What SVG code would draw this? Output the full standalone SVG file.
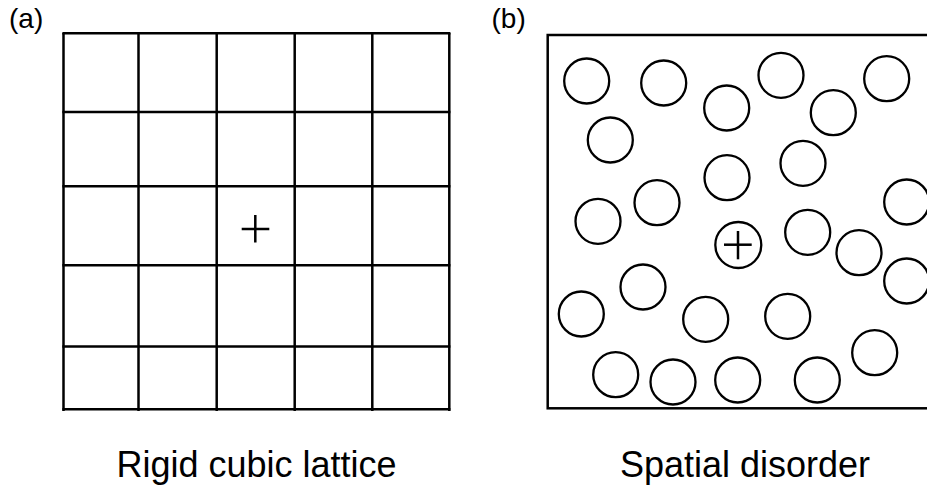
<svg xmlns="http://www.w3.org/2000/svg" width="927" height="491" viewBox="0 0 927 491">
  <style>
    .ln { stroke: #000; stroke-width: 2.5; fill: none; }
    .atom { stroke: #000; stroke-width: 2.3; fill: none; }
    .lbl { font-family: "Liberation Sans", Arial, sans-serif; fill: #000; }
    .tag { font-size: 28px; }
    .cap { font-size: 36px; text-anchor: middle; }
  </style>
  <rect width="927" height="491" fill="#fff"/>

  <!-- panel (a): rigid cubic lattice -->
  <g id="lattice">
    <g class="ln">
      <!-- vertical lines -->
      <line x1="63.5" y1="33" x2="63.5" y2="411"/>
      <line x1="138.5" y1="33" x2="138.5" y2="411"/>
      <line x1="216.7" y1="33" x2="216.7" y2="411"/>
      <line x1="294.7" y1="33" x2="294.7" y2="411"/>
      <line x1="372.3" y1="33" x2="372.3" y2="411"/>
      <line x1="449.3" y1="33" x2="449.3" y2="411"/>
      <!-- horizontal lines -->
      <line x1="62.4" y1="33.3" x2="450.4" y2="33.3"/>
      <line x1="62.4" y1="112" x2="450.4" y2="112"/>
      <line x1="62.4" y1="186.3" x2="450.4" y2="186.3"/>
      <line x1="62.4" y1="265.3" x2="450.4" y2="265.3"/>
      <line x1="62.4" y1="346.5" x2="450.4" y2="346.5"/>
      <line x1="62.4" y1="409.2" x2="450.4" y2="409.2"/>
    </g>
    <g id="lattice-ion" class="ln">
      <line x1="241.7" y1="229" x2="269.3" y2="229"/>
      <line x1="255.3" y1="215" x2="255.3" y2="242.5"/>
    </g>
  </g>

  <!-- panel (b): spatially disordered solvent -->
  <g id="disorder">
    <rect class="ln" x="547.7" y="35" width="390" height="373.3"/>
    <g class="atom">
      <circle cx="586.7" cy="81" r="22.5"/>
      <circle cx="663.7" cy="83" r="22.5"/>
      <circle cx="726.7" cy="108" r="22.5"/>
      <circle cx="781" cy="75.3" r="22.5"/>
      <circle cx="833.3" cy="112.7" r="22.5"/>
      <circle cx="886.7" cy="78.7" r="22.5"/>
      <circle cx="610.3" cy="140" r="22.5"/>
      <circle cx="727" cy="177.7" r="22.5"/>
      <circle cx="803" cy="163.3" r="22.5"/>
      <circle cx="598" cy="221.3" r="22.5"/>
      <circle cx="657" cy="202.7" r="22.5"/>
      <circle cx="906.7" cy="202" r="22.5"/>
      <circle cx="807.7" cy="232.3" r="22.5"/>
      <circle cx="859" cy="252.7" r="22.5"/>
      <circle cx="906.7" cy="281" r="22.5"/>
      <circle cx="643" cy="287" r="22.5"/>
      <circle cx="581.3" cy="314" r="22.5"/>
      <circle cx="705.7" cy="319.3" r="22.5"/>
      <circle cx="787.7" cy="316.3" r="22.5"/>
      <circle cx="874.7" cy="352.7" r="22.5"/>
      <circle cx="615.7" cy="374.7" r="22.5"/>
      <circle cx="673" cy="382" r="22.5"/>
      <circle cx="737.7" cy="380" r="22.5"/>
      <circle cx="817.3" cy="380" r="22.5"/>
    </g>
    <g id="solvated-ion">
      <circle class="atom" cx="738.3" cy="245" r="23"/>
      <line class="ln" x1="724" y1="244.7" x2="751.7" y2="244.7"/>
      <line class="ln" x1="738" y1="231" x2="738" y2="259.3"/>
    </g>
  </g>

  <!-- labels -->
  <text class="lbl tag" x="9" y="27.5">(a)</text>
  <text class="lbl tag" x="491.5" y="27.5">(b)</text>
  <text class="lbl cap" x="256.5" y="477">Rigid cubic lattice</text>
  <text class="lbl cap" x="745" y="477">Spatial disorder</text>
</svg>
